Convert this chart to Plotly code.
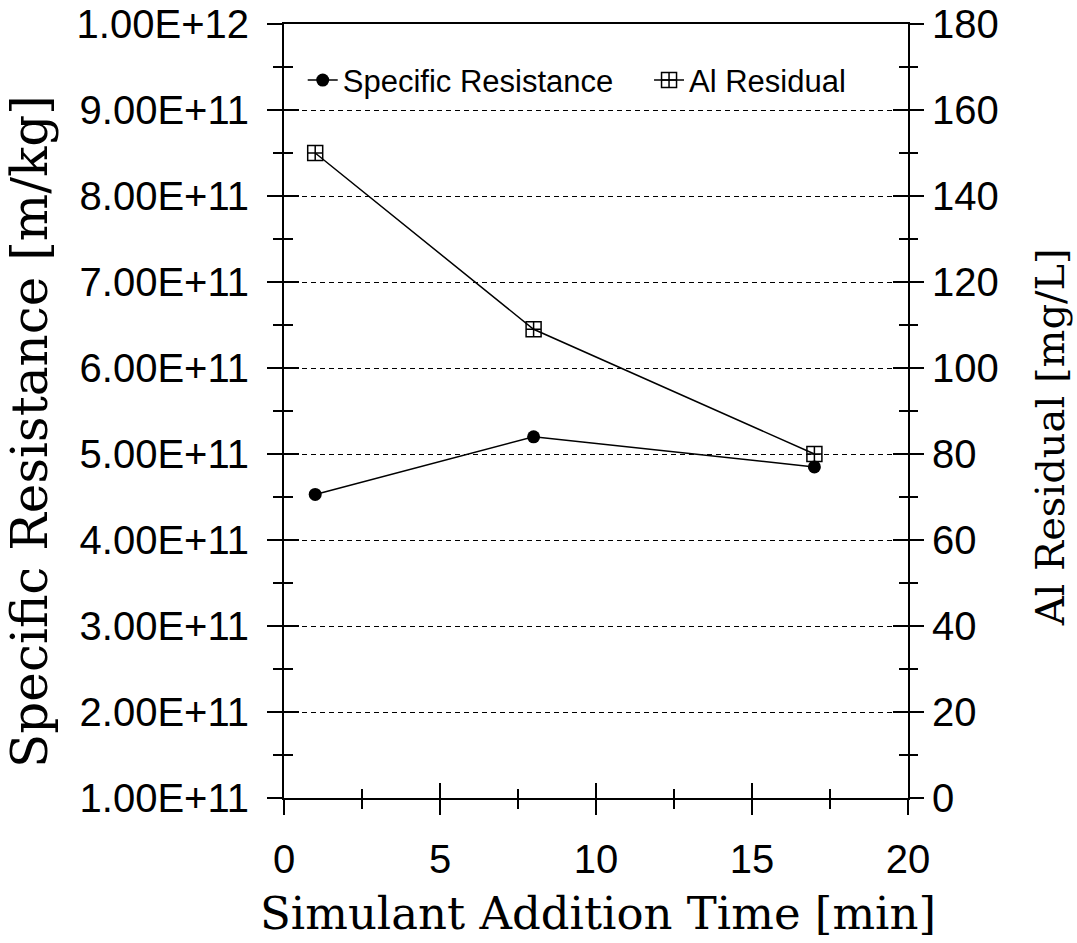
import plotly.graph_objects as go

# Simulant addition time [min]
addition_time = [1, 8, 17]
# Specific resistance [m/kg]
specific_resistance = [4.53e11, 5.20e11, 4.85e11]
# Aluminium residual [mg/L]
al_residual = [150, 109, 80]

left_tick_vals = [1e11, 2e11, 3e11, 4e11, 5e11, 6e11, 7e11, 8e11, 9e11, 1e12]
left_tick_text = ["1.00E+11", "2.00E+11", "3.00E+11", "4.00E+11", "5.00E+11",
                  "6.00E+11", "7.00E+11", "8.00E+11", "9.00E+11", "1.00E+12"]

SANS = "Liberation Sans, Arial, sans-serif"
SERIF = "DejaVu Serif, serif"
INK = "black"

fig = go.Figure()

fig.add_trace(go.Scatter(
    x=addition_time, y=specific_resistance, name="Specific Resistance",
    mode="lines+markers", xaxis="x", yaxis="y", legend="legend",
    line=dict(color=INK, width=1.5),
    marker=dict(symbol="circle", size=13, color=INK),
))
fig.add_trace(go.Scatter(
    x=addition_time, y=al_residual, name="Al Residual",
    mode="lines+markers", xaxis="x", yaxis="y2", legend="legend2",
    line=dict(color=INK, width=1.5),
    marker=dict(symbol="square-cross-open", size=15, color=INK,
                line=dict(width=1.5, color=INK)),
))

# transparent carriers so the inward-tick axes get drawn
fig.add_trace(go.Scatter(
    x=addition_time, y=specific_resistance, xaxis="x2", yaxis="y3",
    mode="markers", marker=dict(opacity=0), hoverinfo="skip", showlegend=False,
))
fig.add_trace(go.Scatter(
    x=addition_time, y=al_residual, xaxis="x", yaxis="y4",
    mode="markers", marker=dict(opacity=0), hoverinfo="skip", showlegend=False,
))

tick_common = dict(tickcolor=INK, tickwidth=1.5, ticklen=15)
minor_common = dict(tickcolor=INK, tickwidth=1.5, ticklen=9, showgrid=False)
legend_common = dict(orientation="h", xanchor="left", y=0.962, yanchor="top",
                     font=dict(family=SANS, size=31, color=INK),
                     bgcolor="rgba(0,0,0,0)", borderwidth=0)

fig.update_layout(
    width=1077, height=943,
    margin=dict(l=284, r=169, t=24, b=145, autoexpand=False),
    paper_bgcolor="white", plot_bgcolor="white",
    showlegend=True,
    legend=dict(x=0.03, **legend_common),
    legend2=dict(x=0.585, **legend_common),
    xaxis=dict(
        range=[0, 20], tick0=0, dtick=5, ticks="outside", **tick_common,
        minor=dict(dtick=2.5, ticks="outside", **minor_common),
        showline=True, linecolor=INK, linewidth=2, mirror=True,
        showgrid=False, zeroline=False, automargin=False,
        ticklabelstandoff=10,
        tickfont=dict(family=SANS, size=40, color=INK),
    ),
    xaxis2=dict(
        range=[0, 20], tick0=0, dtick=5, ticks="inside", **tick_common,
        minor=dict(dtick=2.5, ticks="inside", **minor_common),
        overlaying="x", anchor="y", side="bottom", automargin=False,
        showticklabels=False, showline=False, showgrid=False, zeroline=False,
    ),
    yaxis=dict(
        range=[1e11, 1e12], tickmode="array",
        tickvals=left_tick_vals, ticktext=left_tick_text,
        ticks="outside", **tick_common,
        minor=dict(dtick=5e10, tick0=1e11, ticks="outside", **minor_common),
        showline=True, linecolor=INK, linewidth=2, mirror=True,
        showgrid=True, gridcolor=INK, gridwidth=1.4, griddash="5px,4px",
        zeroline=False, automargin=False, ticklabelstandoff=10,
        tickfont=dict(family=SANS, size=40, color=INK),
    ),
    yaxis2=dict(
        range=[0, 180], tick0=0, dtick=20, ticks="outside", **tick_common,
        minor=dict(dtick=10, ticks="outside", **minor_common),
        overlaying="y", side="right", anchor="x", automargin=False,
        showline=False, showgrid=False, zeroline=False,
        tickfont=dict(family=SANS, size=40, color=INK),
    ),
    yaxis3=dict(
        range=[1e11, 1e12], tick0=1e11, dtick=1e11, ticks="inside", **tick_common,
        minor=dict(dtick=5e10, tick0=1e11, ticks="inside", **minor_common),
        overlaying="y", side="left", anchor="x", automargin=False,
        showticklabels=False, showline=False, showgrid=False, zeroline=False,
    ),
    yaxis4=dict(
        range=[0, 180], tick0=0, dtick=20, ticks="inside", **tick_common,
        minor=dict(dtick=10, ticks="inside", **minor_common),
        overlaying="y", side="right", anchor="x", automargin=False,
        showticklabels=False, showline=False, showgrid=False, zeroline=False,
    ),
    annotations=[
        dict(text="Specific Resistance [m/kg]", xref="paper", yref="paper",
             x=-0.407, y=0.473, textangle=-90, showarrow=False,
             xanchor="center", yanchor="middle",
             font=dict(family=SERIF, size=50, color=INK)),
        dict(text="Al Residual [mg/L]", xref="paper", yref="paper",
             x=1.2276, y=0.466, textangle=-90, showarrow=False,
             xanchor="center", yanchor="middle",
             font=dict(family=SERIF, size=40, color=INK)),
        dict(text="Simulant Addition Time [min]", xref="paper", yref="paper",
             x=0.503, y=-0.1486, showarrow=False,
             xanchor="center", yanchor="middle",
             font=dict(family=SERIF, size=45, color=INK)),
    ],
)

fig.write_html("out.html")
